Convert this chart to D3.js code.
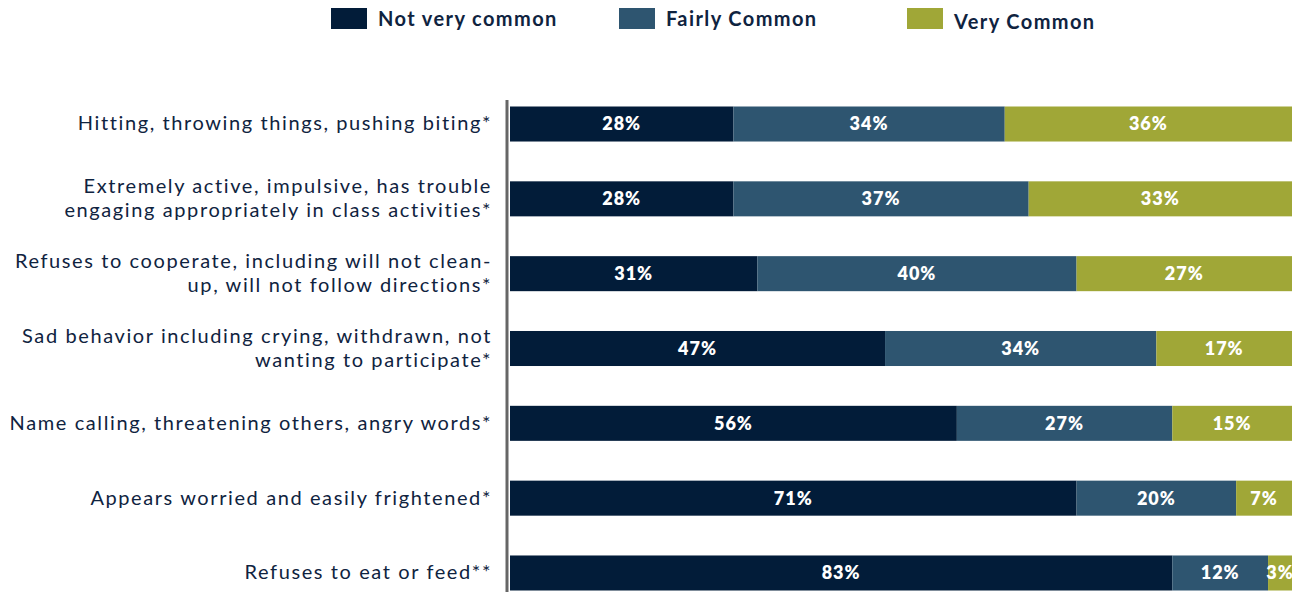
<!DOCTYPE html>
<html><head><meta charset="utf-8">
<script src="https://cdn.jsdelivr.net/npm/d3@7"></script>
<style>
html,body{margin:0;padding:0;background:#fff;}
svg{display:block;}
text{font-family:"Lato","Noto Sans",sans-serif;}
</style></head>
<body>
<svg id="chart" width="1299" height="592"></svg>
<script>
const categories = [
  ["Hitting, throwing things, pushing biting*"],
  ["Extremely active, impulsive, has trouble", "engaging appropriately in class activities*"],
  ["Refuses to cooperate, including will not clean-", "up, will not follow directions*"],
  ["Sad behavior including crying, withdrawn, not", "wanting to participate*"],
  ["Name calling, threatening others, angry words*"],
  ["Appears worried and easily frightened*"],
  ["Refuses to eat or feed**"]
];
const seriesNames = ["Not very common", "Fairly Common", "Very Common"];
const notVeryCommon = [28, 28, 31, 47, 56, 71, 83];
const fairlyCommon  = [34, 37, 40, 34, 27, 20, 12];
const veryCommon    = [36, 33, 27, 17, 15, 7, 3];
const colors = ["#021c39", "#2e5570", "#a0a737"];

const svg = d3.select("#chart");
const rows = categories.map((c, i) => ({
  key: i, label: c,
  "Not very common": notVeryCommon[i],
  "Fairly Common": fairlyCommon[i],
  "Very Common": veryCommon[i]
}));
const stack = d3.stack().keys(seriesNames)(rows);
const total = d3.max(rows, r => r["Not very common"] + r["Fairly Common"] + r["Very Common"]);

const x = d3.scaleLinear().domain([0, total]).range([510, 1292]);
const y = d3.scaleBand().domain(rows.map(r => r.key)).range([106.5, 590.5]).paddingInner(0.532).paddingOuter(0);
const color = d3.scaleOrdinal().domain(seriesNames).range(colors);

// bars
const g = svg.append("g");
stack.forEach(s => {
  const layer = g.append("g").attr("fill", color(s.key));
  layer.selectAll("rect").data(s).join("rect")
    .attr("x", d => x(d[0]))
    .attr("y", d => y(d.data.key))
    .attr("width", d => x(d[1]) - x(d[0]))
    .attr("height", y.bandwidth());
  svg.append("g").selectAll("text").data(s).join("text")
    .attr("x", d => (x(d[0]) + x(d[1])) / 2)
    .attr("y", d => y(d.data.key) + y.bandwidth() / 2)
    .attr("dy", "0.36em")
    .attr("text-anchor", "middle")
    .attr("fill", "#fff")
    .attr("font-weight", 800)
    .attr("font-size", 18)
    .attr("letter-spacing", 1)
    .text(d => (d[1] - d[0]) + "%");
});

// axis line
const yAxis = d3.axisLeft(y).tickSize(0).tickFormat("");
const ax = svg.append("g").attr("transform", "translate(507,0)").call(yAxis);
ax.select(".domain").attr("d", "M0,100V592").attr("stroke", "#666").attr("stroke-width", 3);

// category labels
const lab = svg.append("g");
rows.forEach(r => {
  const cy = y(r.key) + y.bandwidth() / 2;
  const n = r.label.length;
  const lh = 24;
  const t = lab.append("text")
    .attr("text-anchor", "end")
    .attr("fill", "#0f2340")
    .attr("font-size", 20)
    .attr("letter-spacing", 1.6);
  r.label.forEach((line, j) => {
    t.append("tspan").attr("x", 492)
      .attr("y", cy + (j - (n - 1) / 2) * lh)
      .attr("dy", "0.32em")
      .text(line);
  });
});

// legend
const legendX = [331, 619, 907];
const legendTextY = [19, 19, 22];
const leg = svg.append("g");
seriesNames.forEach((s, i) => {
  leg.append("rect").attr("x", legendX[i]).attr("y", 8).attr("width", 36).attr("height", 21).attr("fill", color(s));
  leg.append("text").attr("x", legendX[i] + 47).attr("y", legendTextY[i]).attr("dy", "0.36em")
    .attr("font-size", 20).attr("font-weight", 700).attr("fill", "#0f2340").attr("letter-spacing", 1.4).text(s);
});
</script>
</body></html>
